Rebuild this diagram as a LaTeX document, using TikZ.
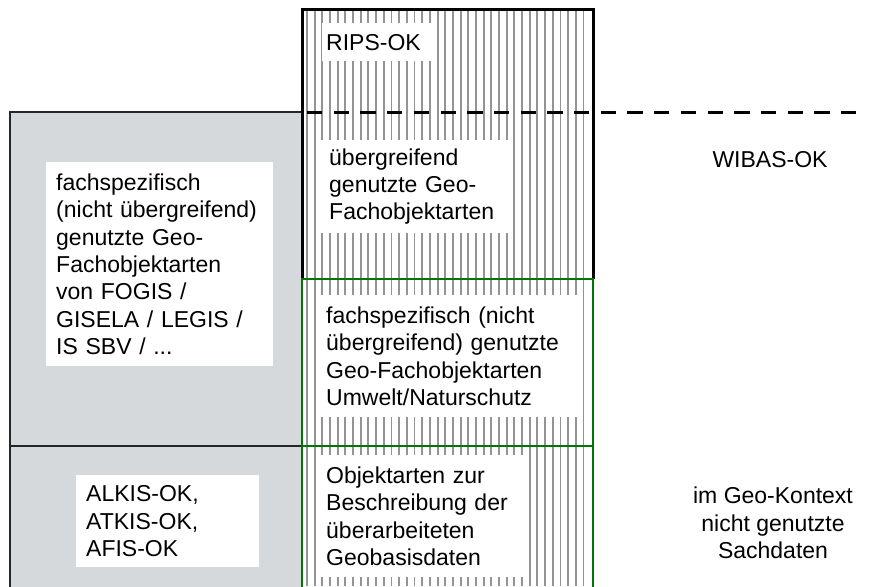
\documentclass[tikz,border=0pt]{standalone}
\usepackage{fontspec}
\setmainfont{Liberation Sans}
\definecolor{feldgrau}{RGB}{214,217,219}
\definecolor{dunkelgruen}{RGB}{0,120,0}
\begin{document}
\begin{tikzpicture}
    [
        x=1pt, y=-1pt,
        every node/.style={font=\fontsize{23}{27.3}\selectfont, inner ysep=0pt},
        feld/.style={draw=black!85, line width=1.4pt, fill=feldgrau},
        schraffur/.style={draw=black!42, line width=1.9pt},
        rahmen/.style={draw=black, line width=3pt},
        gruen/.style={draw=dunkelgruen, line width=1.8pt},
        grenze/.style={draw=black, line width=3pt, dash pattern=on 15.3pt off 11.4pt},
        kasten/.style={fill=white, anchor=north west, align=left, inner xsep=10pt},
    ]
    \useasboundingbox (0,0) rectangle (874,586);

    % linke Spalte
    \draw[feld] (10,112) rectangle (302,446);
    \draw[feld] (10,446) rectangle (302,592);

    % mittlere Spalte
    \foreach \i in {0,...,36}
        \draw[schraffur] ({307+7.68*\i},10) -- ({307+7.68*\i},586);
    \draw[rahmen] (302,279) -- (302,10) -- (593,10) -- (593,279);
    \draw[gruen] (302,279) rectangle (593,446);
    \draw[gruen] (302,446) rectangle (593,592);
    \draw[grenze] (307,112) -- (864,112);

    % Textkaesten
    \node (rips)   at (322,23)  [kasten, inner xsep=4pt, text width=102pt, minimum height=38pt] {RIPS-OK};
    \node (ueber)  at (319,140) [kasten, text width=170pt, minimum height=93pt]
        {übergreifend\\genutzte Geo-\\Fachobjektarten};
    \node (umwelt) at (316,295) [kasten, text width=242pt, minimum height=122pt]
        {fachspezifisch (nicht\\übergreifend) genutzte\\Geo-Fachobjektarten\\Umwelt/Naturschutz};
    \node (basis)  at (316,455) [kasten, text width=193pt, minimum height=122pt]
        {Objektarten zur\\Beschreibung der\\überarbeiteten\\Geobasisdaten};
    \node (fach)   at (46,162)  [kasten, text width=207pt, minimum height=204pt]
        {fachspezifisch\\(nicht übergreifend)\\genutzte Geo-\\Fachobjektarten\\von FOGIS /\\GISELA / LEGIS /\\IS SBV / ...};
    \node (alkis)  at (76,475)  [kasten, text width=163pt, minimum height=92pt]
        {ALKIS-OK,\\ATKIS-OK,\\AFIS-OK};

    % rechte Spalte
    \node (wibas) at (770,160) {WIBAS-OK};
    \node (sach)  at (773,523) [align=center] {im Geo-Kontext\\nicht genutzte\\Sachdaten};

\end{tikzpicture}
\end{document}
